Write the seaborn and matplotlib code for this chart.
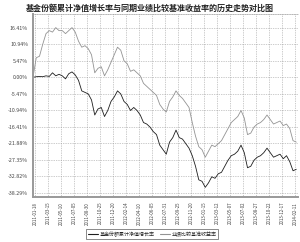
import numpy as np
import pandas as pd
import matplotlib
matplotlib.use("Agg")
import matplotlib.pyplot as plt
import seaborn as sns
from matplotlib.lines import Line2D

title = "基金份额累计净值增长率与同期业绩比较基准收益率的历史走势对比图"
series_names = ["基金份额累计净值增长率", "业绩比较基准收益率"]
start_date = "2011-01-09"
end_date = "2014-02-23"
step = "14D"

fund = [0.0, 0.2, 0.3, 0.2, 0.5, 0.3, 1.5, 0.5, 1.0, 0.5, -0.5, 1.2, 1.8, 0.8,
        -1.0, -4.5, -5.0, -5.5, -7.5, -12.5, -10.5, -10.0, -13.0, -11.0, -8.0,
        -6.5, -4.5, -5.5, -8.0, -9.0, -11.0, -10.0, -11.0, -12.5, -15.0, -15.5,
        -16.5, -18.0, -19.0, -22.5, -24.0, -25.5, -21.5, -20.0, -17.5, -20.0,
        -20.5, -22.0, -23.5, -26.0, -29.5, -34.0, -34.5, -36.5, -35.0, -33.0,
        -33.5, -32.0, -31.5, -29.5, -27.5, -26.0, -25.5, -24.5, -22.5, -25.0,
        -30.0, -29.5, -27.5, -26.5, -26.0, -25.0, -23.5, -25.0, -26.5, -26.0,
        -25.5, -27.0, -26.0, -28.0, -31.0, -30.5]
bench = [0.0, 6.5, 7.0, 11.0, 14.5, 15.5, 15.0, 16.5, 15.5, 15.5, 14.5, 15.5,
         16.5, 15.0, 12.0, 10.0, 10.5, 9.5, 7.5, 1.5, 3.0, 3.5, 0.5, 2.5, 5.0,
         7.5, 10.0, 9.0, 5.5, 4.5, 2.0, 2.5, 1.5, 0.5, -2.0, -3.0, -4.0, -5.0,
         -6.0, -9.0, -10.5, -11.5, -8.0, -6.5, -4.5, -6.0, -7.0, -8.5, -10.0,
         -15.0, -19.5, -23.0, -24.0, -26.5, -24.5, -22.5, -23.0, -22.0, -21.0,
         -19.0, -17.0, -15.0, -14.0, -13.0, -11.0, -13.5, -19.0, -18.5, -16.5,
         -15.5, -15.0, -14.0, -12.5, -14.0, -15.5, -15.0, -14.5, -16.0, -15.5,
         -17.0, -21.0, -21.5]

ytick_vals = [16.41, 10.94, 5.47, 0.00, -5.47, -10.94, -16.41, -21.88,
              -27.35, -32.82, -38.29]
xtick_labels = ["2011-01-18", "2011-03-15", "2011-05-10", "2011-07-05",
                "2011-08-30", "2011-10-25", "2011-12-20", "2012-02-14",
                "2012-04-10", "2012-06-05", "2012-07-31", "2012-09-25",
                "2012-11-20", "2013-01-15", "2013-03-12", "2013-05-07",
                "2013-07-02", "2013-08-27", "2013-10-22", "2013-12-17",
                "2014-02-11"]

sns.set_theme(style="white")
plt.rcParams["font.family"] = ["Noto Sans CJK SC", "DejaVu Sans"]
plt.rcParams["axes.unicode_minus"] = False

dates = pd.date_range(start_date, periods=len(fund), freq=step)
df = pd.DataFrame({
    "date": list(dates) + list(dates),
    "value": fund + bench,
    "series": [series_names[0]] * len(fund) + [series_names[1]] * len(bench),
})

colors = ["#1e1e1e", "#939393"]
fig = plt.figure(figsize=(3.0, 2.42), dpi=100)
ax = fig.add_axes([0.11, 0.186, 0.883, 0.756])
sns.lineplot(data=df, x="date", y="value", hue="series", hue_order=series_names,
             palette=colors, linewidth=0.6, ax=ax, legend=False)

ax.set_ylim(-39.7, 21.0)
ax.set_xlim(pd.Timestamp(start_date), pd.Timestamp(end_date))
ax.set_yticks(ytick_vals)
ax.set_yticklabels([f"{v:.2f}%" for v in ytick_vals], fontsize=3.8, color="#444444")
xt = pd.to_datetime(xtick_labels)
ax.set_xticks(xt)
ax.set_xticklabels(xtick_labels, rotation=90, fontsize=3.2, color="#444444")
ax.set_xlabel("")
ax.set_ylabel("")
ax.tick_params(axis="both", length=2, width=0.5, pad=1.5, color="#888888")
ax.grid(True, linestyle=(0, (1, 1.5)), color="#999999", linewidth=0.5)

for side in ["left", "bottom"]:
    ax.spines[side].set_color("#999999")
    ax.spines[side].set_linewidth(1.4)
ax.spines["right"].set_visible(False)
ax.spines["top"].set_color("#999999")
ax.spines["top"].set_linestyle((0, (1, 1.5)))
ax.spines["top"].set_linewidth(0.5)

fig.text(0.5, 1 - 8 / 242, title, ha="center", va="center", fontsize=5.8,
         fontweight="bold", color="#222222")

handles = [Line2D([0], [0], color=c, linewidth=0.8) for c in colors]
leg = fig.legend(handles, series_names, loc="center", bbox_to_anchor=(0.508, 0.033),
                 ncol=2, fontsize=3.6, frameon=True, fancybox=False,
                 edgecolor="#333333", handlelength=2.0, borderpad=0.4,
                 columnspacing=1.0, handletextpad=0.3)
leg.get_frame().set_linewidth(0.5)

fig.savefig("out.png", dpi=100)
